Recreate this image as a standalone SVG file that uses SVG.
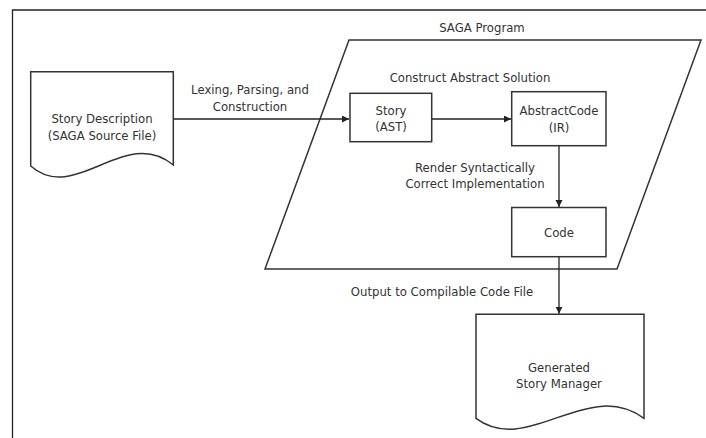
<svg xmlns="http://www.w3.org/2000/svg" width="706" height="438" viewBox="0 0 706 438">
<defs>
<style>
.ln{fill:none;stroke:#222;stroke-width:1.3}
.bx{fill:#fff;stroke:#333;stroke-width:1.5}
.t{font-family:"DejaVu Sans",Verdana,sans-serif;font-size:11.7px;fill:#333;text-anchor:middle}
</style>
<marker id="ah" markerWidth="8" markerHeight="8" refX="7" refY="3.5" orient="auto" markerUnits="userSpaceOnUse">
<path d="M0,0 L7,3.5 L0,7 Z" fill="#222"/>
</marker>
</defs>
<rect width="706" height="438" fill="#fff"/>
<path class="ln" d="M12.5,438 V10 H706" stroke-width="1.6"/>
<g id="saga-program">
<path class="bx" d="M349,40 H701 L617,269 H265 Z" fill="none"/>
<text class="t" x="482" y="31.5">SAGA Program</text>
</g>
<g id="story-description">
<path class="bx" d="M30.7,71.7 H173.3 V165 C125,125 75,205 30.7,166 Z"/>
<text class="t" x="102" y="123">Story Description</text>
<text class="t" x="102" y="140">(SAGA Source File)</text>
</g>
<g id="story">
<rect class="bx" x="350" y="93.3" width="81.7" height="48.4"/>
<text class="t" x="391" y="115">Story</text>
<text class="t" x="391" y="131">(AST)</text>
</g>
<g id="abstract-code">
<rect class="bx" x="511.7" y="91.7" width="94.3" height="54"/>
<text class="t" x="559" y="115">AbstractCode</text>
<text class="t" x="559" y="131.7">(IR)</text>
</g>
<g id="code">
<rect class="bx" x="511.7" y="207.5" width="94.3" height="49.2"/>
<text class="t" x="559" y="236.7">Code</text>
</g>
<g id="generated-story-manager">
<path class="bx" d="M476,314.3 H644 V418.3 C587,377 528,457 476,418.3 Z"/>
<text class="t" x="559" y="371.7">Generated</text>
<text class="t" x="559" y="388.3">Story Manager</text>
</g>
<g id="connectors">
<path class="ln" d="M173.3,119 H349" marker-end="url(#ah)"/>
<path class="ln" d="M431.7,119 H511" marker-end="url(#ah)"/>
<path class="ln" d="M559,145.7 V207" marker-end="url(#ah)"/>
<path class="ln" d="M559,256.7 V313.8" marker-end="url(#ah)"/>
<text class="t" x="250" y="94">Lexing, Parsing, and</text>
<text class="t" x="250" y="111">Construction</text>
<text class="t" x="470" y="81.7">Construct Abstract Solution</text>
<text class="t" x="475" y="171.7">Render Syntactically</text>
<text class="t" x="475" y="188">Correct Implementation</text>
<text class="t" x="442" y="296">Output to Compilable Code File</text>
</g>
</svg>
